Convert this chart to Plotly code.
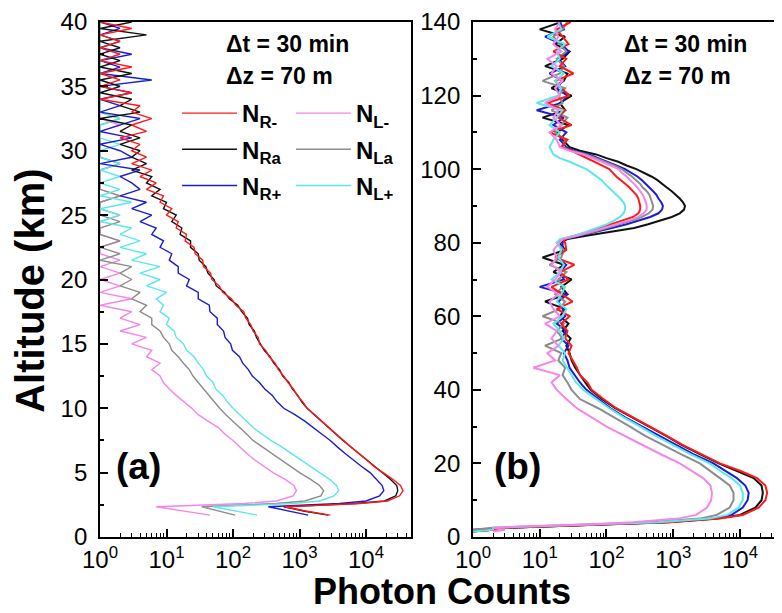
import plotly.graph_objects as go

# ---- panel (a): 0-40 km ----
alt_a = [1.7, 2.0, 2.35, 2.6, 2.8, 3.2, 3.6, 4.0, 4.5, 5.0,
         5.5, 6.0, 6.5, 7.0, 7.5, 8.0, 8.5, 9.0, 9.5, 10.0,
         10.5, 11.0, 11.5, 12.0, 12.5, 13.0, 13.5, 14.0, 14.5, 15.0,
         15.5, 16.0, 16.5, 17.0, 17.5, 18.0, 18.5, 19.0, 19.5, 20.0,
         20.5, 21.0, 21.5, 22.0, 22.5, 23.0, 23.5, 24.0, 24.5, 25.0,
         25.5, 26.0, 26.5, 27.0, 27.5, 28.0, 28.5, 29.0, 29.5, 30.0,
         30.5, 31.0, 31.5, 32.0, 32.5, 33.0, 33.5, 34.0, 34.5, 35.0,
         35.5, 36.0, 36.5, 37.0, 37.5, 38.0, 38.5, 39.0, 39.5, 40.0]

nr_minus_a = [2900, 1300, 600, 8000, 21000, 32000, 36000, 33000, 25000, 18000,
              13000, 10200, 7700, 5900, 4600, 3550, 2700, 2150, 1700, 1300,
              1120, 920, 810, 670, 580, 480, 430, 350, 310, 250,
              240, 200, 185, 155, 145, 110, 95, 70, 62, 48,
              46, 36, 35, 27, 26, 19, 20, 14, 15, 10,
              12, 8, 9, 5, 7, 4, 6, 3, 5, 3,
              4, 2, 5, 3, 6, 3, 4, 1, 3, 1,
              2, 1, 3, 1, 2, 1, 2, 1, 3, 1]
nra_a = [2700, 1200, 580, 7000, 19000, 28000, 30000, 29000, 23000, 17500,
         13000, 10000, 7600, 5800, 4500, 3500, 2750, 2100, 1650, 1300,
         1080, 940, 780, 690, 560, 500, 410, 360, 295, 260,
         225, 210, 175, 165, 135, 118, 88, 75, 56, 52,
         42, 39, 31, 30, 23, 23, 16, 17, 12, 14,
         9, 10, 6, 8, 5, 6, 3, 5, 3, 4,
         2, 4, 2, 3, 1, 4, 2, 3, 1, 2,
         1, 3, 1, 2, 1, 2, 1, 5, 1, 3]
nr_plus_a = [1350, 700, 340, 4000, 10000, 16000, 18500, 17500, 14000, 11500,
             8500, 6300, 4800, 3700, 2900, 2150, 1600, 1200, 850, 580,
             460, 390, 300, 250, 195, 170, 140, 125, 98, 92,
             76, 72, 58, 58, 45, 44, 30, 30, 20, 22,
             15, 15, 11, 12, 8, 9, 6, 7, 4, 6,
             3, 5, 2, 4, 3, 2, 4, 1, 3, 2,
             1, 3, 1, 2, 4, 1, 2, 1, 3, 1,
             6, 1, 2, 1, 3, 1, 2, 1, 2, 1]
nl_minus_a = [45, 20, 7, 150, 450, 800, 900, 820, 600, 400,
              290, 210, 160, 125, 100, 75, 60, 42, 30, 24,
              18, 14, 11, 9, 8, 6, 8, 5, 6, 3,
              5, 2, 4, 2, 3, 1, 3, 1, 2, 1,
              2, 1, 2, 1, 1, 2, 1, 1, 1, 2,
              1, 1, 2, 1, 1, 1, 1, 2, 1, 1,
              1, 1, 1, 2, 1, 1, 1, 1, 1, 1,
              1, 1, 1, 1, 2, 1, 1, 1, 1, 1]
nla_a = [107, 60, 34, 450, 1200, 2100, 2300, 2000, 1450, 1000,
         720, 520, 380, 270, 200, 160, 125, 100, 78, 63,
         52, 44, 36, 30, 25, 22, 18, 15, 12, 11,
         9, 8, 6, 6, 4, 5, 3, 4, 2, 3,
         2, 3, 1, 2, 1, 2, 1, 1, 2, 1,
         1, 1, 2, 1, 1, 1, 1, 2, 1, 1,
         1, 1, 1, 1, 2, 1, 1, 1, 1, 1,
         1, 1, 1, 1, 1, 1, 1, 1, 1, 1]
nl_plus_a = [230, 110, 50, 800, 2000, 3300, 3900, 3600, 2800, 2000,
             1450, 1050, 760, 540, 370, 270, 200, 160, 125, 100,
             82, 70, 55, 50, 40, 36, 30, 26, 20, 18,
             14, 13, 10, 11, 8, 9, 7, 10, 5, 8,
             4, 8, 3, 5, 2, 4, 2, 3, 1, 2,
             1, 3, 1, 2, 1, 2, 1, 2, 1, 1,
             2, 1, 1, 1, 2, 1, 1, 1, 1, 2,
             1, 1, 1, 1, 2, 1, 1, 1, 1, 1]

# ---- panel (b): 0-140 km ----
alt_b = [1.5, 2, 2.5, 3, 3.5, 4, 5, 6, 8, 10, 12, 14, 16, 18, 20,
         22.5, 25, 27.5, 30, 32.5, 35, 37.5, 40,
         42, 44, 46, 48, 50, 52, 54, 56, 58, 60, 62, 64, 66, 68, 70, 72, 74, 76, 78,
         80, 81, 82, 83, 84, 85, 86, 87, 88, 89, 90, 91, 92, 93, 94, 95, 96, 97,
         98, 99, 100, 101, 102, 103, 104, 105, 106,
         108, 110, 112, 114, 116, 118, 120, 122, 124, 126, 128, 130, 132, 134, 136, 138, 140]

nr_minus_b = [1, 2, 3, 25, 200, 900, 5000, 11000, 19000, 24000, 25500, 24000, 18000, 10000, 5000,
              2600, 1400, 800, 450, 250, 140, 90, 60,
              52, 40, 36, 31, 27, 30, 24, 26, 21, 28, 18, 31, 22, 15, 27, 20, 33, 17, 25,
              24, 22, 36, 55, 80, 120, 180, 250, 300, 320, 320, 310, 300, 280, 250, 220, 190, 160,
              140, 125, 110, 85, 65, 50, 38, 30, 21,
              26, 14, 30, 19, 24, 13, 28, 21, 17, 32, 20, 25, 16, 27, 22, 18, 29]
nra_b = [1, 2, 3, 22, 180, 850, 4500, 10000, 17000, 21000, 22000, 21000, 16000, 9000, 4800,
         2500, 1350, 780, 440, 240, 135, 85, 58,
         48, 40, 34, 30, 28, 25, 29, 22, 27, 20, 24, 12, 26, 21, 30, 16, 23, 11, 24,
         20, 26, 55, 130, 260, 420, 650, 950, 1250, 1450, 1500, 1400, 1250, 1100, 950, 800, 680, 580,
         470, 370, 280, 200, 150, 100, 70, 40, 28,
         22, 18, 27, 11, 24, 20, 30, 15, 23, 26, 12, 22, 28, 17, 24, 10, 21]
nr_plus_b = [1, 1, 3, 18, 150, 700, 4000, 7500, 11000, 13000, 13500, 12000, 9000, 6000, 4000,
             2000, 1100, 600, 330, 190, 115, 75, 50,
             40, 33, 28, 26, 23, 27, 21, 25, 18, 24, 22, 19, 26, 10, 23, 20, 25, 18, 22,
             22, 24, 42, 75, 120, 200, 300, 450, 600, 680, 700, 660, 600, 560, 500, 440, 390, 340,
             290, 240, 190, 140, 105, 75, 55, 32, 25,
             20, 25, 16, 23, 9, 21, 26, 18, 22, 14, 24, 19, 27, 21, 12, 23, 20]
nl_minus_b = [2, 3, 2, 8, 60, 250, 1200, 2200, 3200, 3700, 3800, 3600, 2800, 1900, 1250,
              650, 350, 180, 100, 60, 36, 25, 18,
              15, 20, 8, 17, 13, 19, 15, 18, 12, 20, 16, 14, 19, 13, 17, 21, 15, 18, 16,
              20, 22, 38, 60, 90, 140, 210, 300, 360, 400, 400, 390, 370, 350, 320, 290, 260, 225,
              200, 170, 150, 115, 85, 62, 45, 28, 20,
              18, 14, 21, 16, 19, 12, 20, 17, 22, 15, 18, 13, 21, 16, 19, 17, 20]
nla_b = [1, 1, 2, 12, 100, 450, 2500, 4500, 7000, 8000, 8000, 7000, 5000, 3500, 2500,
         1300, 700, 380, 225, 130, 75, 40, 30,
         26, 22, 24, 19, 21, 12, 22, 18, 23, 11, 20, 24, 17, 22, 19, 25, 14, 21, 23,
         18, 23, 40, 65, 100, 160, 240, 340, 430, 490, 500, 480, 460, 440, 400, 350, 320, 280,
         240, 200, 170, 130, 95, 68, 50, 30, 22,
         24, 17, 21, 26, 15, 22, 19, 24, 11, 20, 23, 18, 25, 20, 16, 22, 26]
nl_plus_b = [1, 2, 2, 15, 130, 600, 3500, 6500, 9500, 11000, 11000, 10000, 7500, 5000, 3500,
             1800, 1000, 550, 320, 180, 110, 70, 45,
             35, 30, 25, 22, 24, 19, 23, 20, 16, 22, 25, 18, 21, 24, 15, 20, 23, 19, 21,
             18, 20, 34, 50, 70, 100, 130, 160, 180, 190, 190, 180, 160, 140, 120, 105, 95, 85,
             70, 60, 50, 38, 28, 20, 16, 15, 14,
             16, 20, 14, 18, 22, 9, 19, 21, 17, 23, 15, 20, 18, 24, 13, 21, 19]

labels = {"rm": "N<sub>R-</sub>", "ra": "N<sub>Ra</sub>", "rp": "N<sub>R+</sub>",
          "lm": "N<sub>L-</sub>", "la": "N<sub>La</sub>", "lp": "N<sub>L+</sub>"}
colors = {"rm": "#ff1a1a", "ra": "#111111", "rp": "#1c1cd0",
          "lm": "#f585e8", "la": "#8c8c8c", "lp": "#5ae8ea"}
legend_of = {"rm": ("legend", 1), "ra": ("legend", 2), "rp": ("legend", 3),
             "lm": ("legend2", 1), "la": ("legend2", 2), "lp": ("legend2", 3)}

data_a = {"rm": nr_minus_a, "ra": nra_a, "rp": nr_plus_a,
          "lm": nl_minus_a, "la": nla_a, "lp": nl_plus_a}
data_b = {"rm": nr_minus_b, "ra": nra_b, "rp": nr_plus_b,
          "lm": nl_minus_b, "la": nla_b, "lp": nl_plus_b}

fig = go.Figure()

for k in ["lm", "la", "lp", "rp", "ra", "rm"]:
    leg, rank = legend_of[k]
    fig.add_trace(go.Scatter(x=data_a[k], y=alt_a, mode="lines", name="<b>" + labels[k] + "</b>",
                             line=dict(color=colors[k], width=1.4), legend=leg, legendrank=rank,
                             legendgroup=k, xaxis="x", yaxis="y"))

for k in ["ra", "rp", "la", "rm", "lp", "lm"]:
    fig.add_trace(go.Scatter(x=data_b[k], y=alt_b, mode="lines", showlegend=False,
                             line=dict(color=colors[k], width=2), xaxis="x2", yaxis="y2"))

decades = [1, 10, 100, 1000, 10000]
dec_text = ["10<sup>%d</sup>" % i for i in range(5)]
minor_vals = [m * d for d in [1, 10, 100, 1000, 10000] for m in range(2, 10)]

xcommon = dict(type="log", tickmode="array", tickvals=decades, ticktext=dec_text,
               ticks="inside", ticklen=8, tickwidth=1.5, tickcolor="black",
               minor=dict(tickmode="array", tickvals=minor_vals, ticks="inside", ticklen=4,
                          tickwidth=1.2, tickcolor="black", showgrid=False),
               showline=True, linewidth=1.8, linecolor="black", mirror=True,
               showgrid=False, zeroline=False, tickfont=dict(size=24, color="black"),
               ticklabeloverflow="allow")
ycommon = dict(ticks="inside", ticklen=8, tickwidth=1.5, tickcolor="black",
               showline=True, linewidth=1.8, linecolor="black",
               showgrid=False, zeroline=False, tickfont=dict(size=24, color="black"),
               ticklabelstandoff=6, ticklabeloverflow="allow")

# the page body adds an 8px offset, so the figure is 8px smaller than the window
fig.update_layout(
    width=774, height=605,
    margin=dict(l=92, r=0, t=12, b=76),
    paper_bgcolor="white", plot_bgcolor="white",
    font=dict(family="Liberation Sans, Arial, sans-serif", color="black"),
    xaxis=dict(domain=[0, 0.4556], range=[0, 4.672], anchor="y", **xcommon),
    yaxis=dict(domain=[0, 1], range=[0, 40], dtick=5, anchor="x", mirror=True,
               minor=dict(dtick=2.5, ticks="inside", ticklen=4, tickcolor="black"), **ycommon),
    xaxis2=dict(domain=[0.5469, 1], range=[0, 4.629], anchor="y2", **xcommon),
    yaxis2=dict(domain=[0, 1], range=[0, 140], dtick=20, anchor="x2", mirror=False,
                minor=dict(dtick=10, ticks="inside", ticklen=4, tickcolor="black"), **ycommon),
    legend=dict(x=0.113, y=0.866, xanchor="left", yanchor="top", bgcolor="rgba(0,0,0,0)",
                font=dict(size=24), itemwidth=55, tracegroupgap=2),
    legend2=dict(x=0.28, y=0.866, xanchor="left", yanchor="top", bgcolor="rgba(0,0,0,0)",
                 font=dict(size=24), itemwidth=55, tracegroupgap=2),
    showlegend=True,
)

notes = [
    ("<b>\u0394t = 30 min</b>", 0.182, 0.957, 23, "left"),
    ("<b>\u0394z = 70 m</b>", 0.182, 0.896, 23, "left"),
    ("<b>\u0394t = 30 min</b>", 0.765, 0.957, 23, "left"),
    ("<b>\u0394z = 70 m</b>", 0.765, 0.896, 23, "left"),
    ("<b>(a)</b>", 0.02, 0.137, 37, "left"),
    ("<b>(b)</b>", 0.575, 0.137, 37, "left"),
    ("<b>Photon Counts</b>", 0.5015, -0.106, 36, "center"),
]
for txt, x, y, size, anc in notes:
    fig.add_annotation(text=txt, x=x, y=y, xref="paper", yref="paper", xanchor=anc,
                       yanchor="middle", showarrow=False, font=dict(size=size, color="black"))

fig.add_annotation(text="<b>Altitude (km)</b>", x=-0.1026, y=0.478, xref="paper", yref="paper",
                   xanchor="center", yanchor="middle", textangle=-90, showarrow=False,
                   font=dict(size=40, color="black"))

fig.write_html("out.html")
